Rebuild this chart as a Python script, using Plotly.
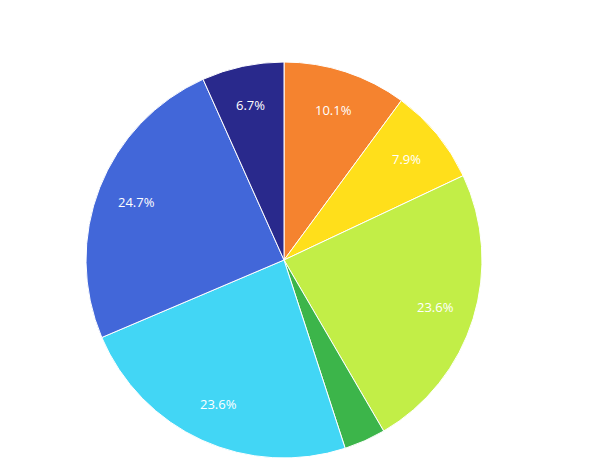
import math
import plotly.graph_objects as go

# slices, clockwise from 12 o'clock
labels = ['Orange', 'Yellow', 'Lime', 'Green', 'Sky', 'Blue', 'Navy']
values = [10.1, 7.9, 23.6, 3.4, 23.6, 24.7, 6.7]
colors = ['#F5832F', '#FFDF1B', '#C2EE47', '#3CB54A', '#42D6F5', '#4267D9', '#29298C']
# the small green slice carries no label
show_text = [True, True, True, False, True, True, True]

W, H = 612, 471
margin = dict(l=12, r=72, t=54, b=21)
plot_w = W - margin['l'] - margin['r']
plot_h = H - margin['t'] - margin['b']
radius_px = min(plot_w, plot_h) / 2
label_r = 0.8 * radius_px

fig = go.Figure(go.Pie(
    labels=labels,
    values=values,
    sort=False,
    direction='clockwise',
    rotation=0,
    textinfo='none',
    marker=dict(colors=colors, line=dict(color='white', width=1)),
    hoverinfo='label+percent',
))

# percentage labels placed at 80% of the radius along each slice's mid-angle
total = sum(values)
cum = 0
for v, s in zip(values, show_text):
    mid = (cum + v / 2) / total * 2 * math.pi
    cum += v
    if not s:
        continue
    x = 0.5 + label_r * math.sin(mid) / plot_w
    y = 0.5 + label_r * math.cos(mid) / plot_h
    fig.add_annotation(
        x=x, y=y, xref='paper', yref='paper',
        text=f'{v / total * 100:.1f}%', showarrow=False,
        font=dict(family='Open Sans', size=13, color='white'),
        xanchor='center', yanchor='middle',
    )

fig.update_layout(
    width=W,
    height=H,
    showlegend=False,
    paper_bgcolor='white',
    margin=margin,
)

fig.write_html('out.html')
